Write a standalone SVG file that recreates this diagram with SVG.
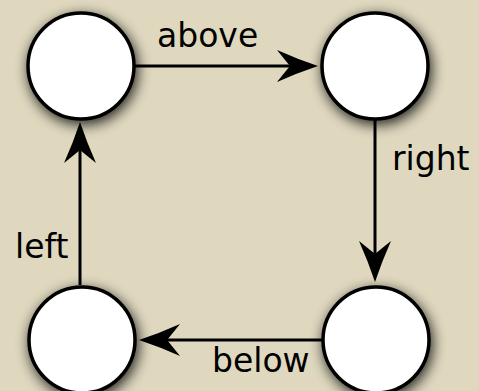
<svg xmlns="http://www.w3.org/2000/svg" width="479" height="391" viewBox="0 0 479 391">
<defs>
<style>
.node circle{fill:#ffffff;stroke:#000;stroke-width:3.5;filter:url(#sh)}
.edge{stroke:#000;stroke-width:3;fill:none;marker-end:url(#ah)}
.lbl{font-family:"DejaVu Sans","Liberation Sans",sans-serif;font-size:33px;fill:#000}
</style>
<filter id="sh" x="-40%" y="-40%" width="180%" height="180%">
<feGaussianBlur in="SourceAlpha" stdDeviation="7"/>
<feOffset dx="2" dy="4" result="b"/>
<feComponentTransfer><feFuncA type="linear" slope="0.85"/></feComponentTransfer>
<feMerge><feMergeNode/><feMergeNode in="SourceGraphic"/></feMerge>
</filter>
<marker id="ah" markerUnits="userSpaceOnUse" viewBox="0 0 42 32" markerWidth="42" markerHeight="32" refX="13" refY="16" orient="auto">
<path d="M41,16 Q20,9 0,0 Q8,10 13,16 Q8,22 0,32 Q20,23 41,16 Z" fill="#000"/>
</marker>
</defs>
<rect width="479" height="391" fill="#dfd8bf"/>
<g id="connectors">
<path class="edge" d="M135,66 H290"/>
<path class="edge" d="M375,120 V254"/>
<path class="edge" d="M322,340 H167"/>
<path class="edge" d="M80,285 V150"/>
</g>
<g id="node-tl" class="node"><circle cx="81" cy="66" r="53"/></g>
<g id="node-tr" class="node"><circle cx="375" cy="66" r="53"/></g>
<g id="node-bl" class="node"><circle cx="82" cy="340" r="53"/></g>
<g id="node-br" class="node"><circle cx="376" cy="340" r="53"/></g>
<g id="labels">
<text class="lbl" x="157" y="47">above</text>
<text class="lbl" x="392" y="170">right</text>
<text class="lbl" x="15" y="258">left</text>
<text class="lbl" x="212" y="372">below</text>
</g>
</svg>
